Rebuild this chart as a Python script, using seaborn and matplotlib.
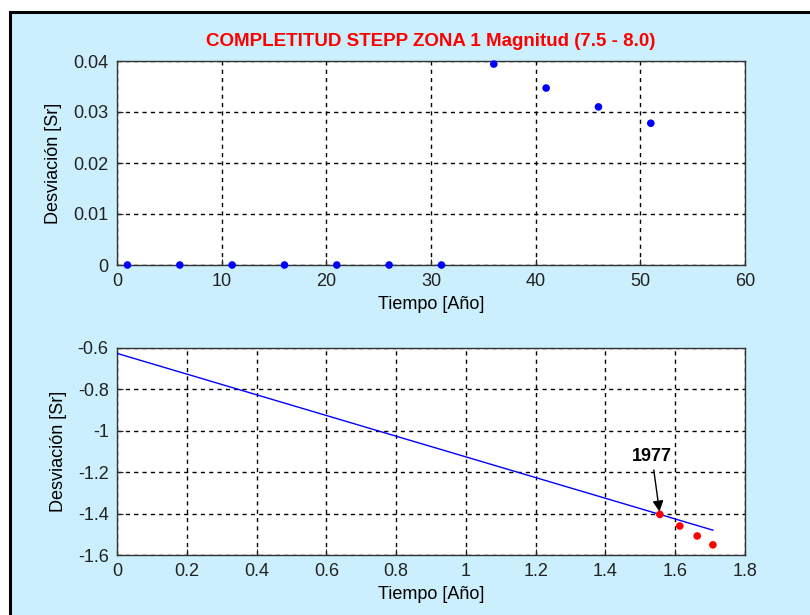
import matplotlib
matplotlib.use("Agg")
import matplotlib.pyplot as plt
from matplotlib.patches import Rectangle
import seaborn as sns
import pandas as pd

# ---- data ----
t_years = [1, 6, 11, 16, 21, 26, 31, 36, 41, 46, 51]
sr_values = [0, 0, 0, 0, 0, 0, 0, 0.0394, 0.0347, 0.0310, 0.0278]

log_t = [1.556, 1.613, 1.663, 1.708]
log_sr = [-1.404, -1.460, -1.508, -1.551]

fit_x = [0.0, 1.708]
fit_y = [-0.626, -1.480]

top_xticks = [0, 10, 20, 30, 40, 50, 60]
top_yticks = [0, 0.01, 0.02, 0.03, 0.04]
top_yticklabels = ["0", "0.01", "0.02", "0.03", "0.04"]
bot_xticks = [0, 0.2, 0.4, 0.6, 0.8, 1.0, 1.2, 1.4, 1.6, 1.8]
bot_xticklabels = ["0", "0.2", "0.4", "0.6", "0.8", "1", "1.2", "1.4", "1.6", "1.8"]
bot_yticks = [-1.6, -1.4, -1.2, -1.0, -0.8, -0.6]
bot_yticklabels = ["-1.6", "-1.4", "-1.2", "-1", "-0.8", "-0.6"]

title = "COMPLETITUD STEPP ZONA 1 Magnitud (7.5 - 8.0)"
annot_year = "1977"

plt.rcParams["font.family"] = ["Liberation Sans", "DejaVu Sans"]
plt.rcParams["axes.unicode_minus"] = False

bg = "#CCEFFD"
fig = plt.figure(figsize=(8.1, 6.15), dpi=100, facecolor="white")
fig.patches.append(Rectangle((10 / 810, -0.1), 1.2, 1 - 12 / 615 + 0.1,
                             transform=fig.transFigure, facecolor=bg,
                             edgecolor="black", linewidth=2.2, zorder=-10))

ax1 = fig.add_axes([117 / 810, 1 - 265 / 615, 628 / 810, 204 / 615])
ax2 = fig.add_axes([117 / 810, 1 - 555 / 615, 628 / 810, 207 / 615])

df_top = pd.DataFrame({"t": t_years, "sr": sr_values})
df_bot = pd.DataFrame({"x": log_t, "y": log_sr})
df_fit = pd.DataFrame({"x": fit_x, "y": fit_y})

sns.scatterplot(data=df_top, x="t", y="sr", ax=ax1, color="blue",
                s=30, edgecolor="none", zorder=5, clip_on=False)
sns.lineplot(data=df_fit, x="x", y="y", ax=ax2, color="blue", lw=1, zorder=4)
sns.scatterplot(data=df_bot, x="x", y="y", ax=ax2, color="red",
                s=30, edgecolor="none", zorder=5)

for ax in (ax1, ax2):
    ax.set_facecolor("white")
    ax.grid(True, color="black", linestyle=(0, (3, 3)), linewidth=1)
    ax.set_axisbelow(True)
    for sp in ax.spines.values():
        sp.set_color("#333333")
        sp.set_linewidth(1)
    ax.tick_params(direction="in", length=4, labelsize=13, colors="#222222",
                   top=False, right=False, pad=6)
    ax.set_xlabel("Tiempo [Año]", fontsize=13, labelpad=4)
    ax.set_ylabel("Desviación [Sr]", fontsize=13, labelpad=8)

ax1.set_xlim(0, 60)
ax1.set_ylim(0, 0.04)
ax1.set_xticks(top_xticks)
ax1.set_yticks(top_yticks)
ax1.set_yticklabels(top_yticklabels)

ax2.set_xlim(0, 1.8)
ax2.set_ylim(-1.6, -0.6)
ax2.set_xticks(bot_xticks)
ax2.set_xticklabels(bot_xticklabels)
ax2.set_yticks(bot_yticks)
ax2.set_yticklabels(bot_yticklabels)

ax1.set_title(title, color="red", fontsize=13.5, fontweight="bold", pad=11)

ax2.annotate(annot_year, xy=(log_t[0], log_sr[0]), xytext=(1.533, -1.122),
             ha="center", va="center", fontsize=13, fontweight="bold",
             arrowprops=dict(arrowstyle="-|>", color="black", lw=1,
                             mutation_scale=16, shrinkA=2, shrinkB=2))

fig.savefig("out.png", dpi=100, facecolor=fig.get_facecolor())
